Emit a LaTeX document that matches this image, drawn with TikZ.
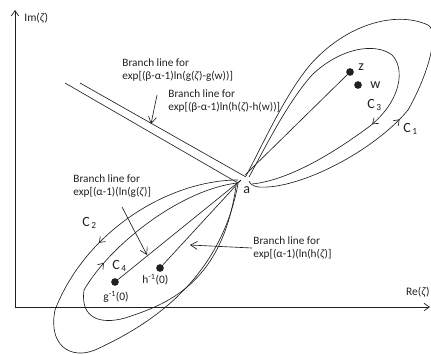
\documentclass[tikz,border=0pt]{standalone}
\usepackage{fontspec}
\setmainfont{Carlito}
\usepackage{xcolor}
\definecolor{inkBlack}{HTML}{231F20}
\usepackage{tikz}
\usetikzlibrary{
    arrows.meta,
    decorations.markings,
    calc
}
\newcommand{\zt}{\textit{ζ}}
\tikzset{
    % Base style for all labels
    small text/.style={
        font=\fontsize{9.6}{10.4}\selectfont,
        text=inkBlack,
        inner sep=1pt,
    },
    % Branch line captions - two lines, left aligned
    caption/.style={
        small text,
        align=left,
        anchor=west,
    },
    % Axis and point names
    mid label/.style={
        font=\fontsize{9.8}{11}\selectfont,
        text=inkBlack,
        inner sep=1pt,
        anchor=west,
    },
    % Contour names
    big label/.style={
        font=\fontsize{12}{13}\selectfont,
        text=inkBlack,
        inner sep=1pt,
        anchor=west,
    },
    % Coordinate axes
    axis/.style={
        -{Straight Barb[length=1.6mm, width=2.2mm]},
        line width=0.6pt,
        draw=inkBlack,
    },
    % Contours round the branch points
    contour/.style={
        line width=0.55pt,
        draw=inkBlack,
    },
    % Direction marks on a contour
    forward at/.style={
        postaction={decorate},
        decoration={markings,
            mark=at position #1 with {\arrow{Straight Barb[length=1.5mm, width=2.2mm]}}},
    },
    backward at/.style={
        postaction={decorate},
        decoration={markings,
            mark=at position #1 with {\arrowreversed{Straight Barb[length=1.5mm, width=2.2mm]}}},
    },
    % Branch lines
    cut/.style={
        line width=0.55pt,
        draw=inkBlack,
    },
    % Pointer from a caption to its branch line
    pointer/.style={
        -{Straight Barb[length=2mm, width=2.4mm]},
        line width=0.55pt,
        draw=inkBlack,
    },
    % Branch points
    dot/.style={
        circle,
        fill=inkBlack,
        inner sep=0pt,
        minimum size=2.3mm,
    },
}

\begin{document}
\begin{tikzpicture}[x=0.03cm, y=-0.03cm]
    \useasboundingbox (0,0) rectangle (431,354);

    % axes
    \coordinate (O) at (15,307);
    \coordinate (imTip) at (15,10);
    \coordinate (reTip) at (430,307);
    \draw [axis] (O) -- (imTip);
    \draw [axis] (O) -- (reTip);
    \node (imLabel) [mid label] at (23,18) {Im(\zt)};
    \node (reLabel) [mid label, anchor=east] at (431,292) {Re(\zt)};

    % points
    \coordinate (a) at (241,180);
    \node (z) [dot] at (350,72) {};
    \node (w) [dot] at (358,85) {};
    \node (ginv) [dot] at (115,282) {};
    \node (hinv) [dot] at (160,268) {};
    \node (aLabel) [big label] at (242,190) {a};
    \node (zLabel) [big label] at (357,67) {z};
    \node (wLabel) [big label] at (369,85) {w};
    \node (gLabel) [mid label] at (102,297) {g\textsuperscript{-1}(0)};
    \node (hLabel) [mid label] at (141,280) {h\textsuperscript{-1}(0)};

    % branch lines
    \coordinate (cutA) at (65,83);
    \coordinate (cutB) at (80,83);
    \draw [cut] (cutA) -- ([shift={(-3,3)}]a);
    \draw [cut] (cutB) -- ([shift={(5,-3)}]a);
    \draw [cut] ([shift={(4,-5)}]a) -- (z);
    \draw [cut] (a) -- (ginv);
    \draw [cut] (a) -- (hinv);

    % contours C1 and C3
    \draw [contour, backward at=0.68] ([shift={(5,-4)}]a)
        .. controls (265,140) and (285,95) .. (310,65)
        .. controls (345,25) and (395,10) .. (428,25)
        .. controls (440,32) and (428,75) .. (408,110)
        .. controls (375,150) and (300,190) .. (258,187)
        .. controls (253,186) and (250,184) .. (249,181);
    \draw [contour, forward at=0.68] ([shift={(8,-3)}]a)
        .. controls (268,142) and (288,102) .. (312,75)
        .. controls (340,48) and (375,42) .. (392,55)
        .. controls (405,68) and (402,100) .. (370,126)
        .. controls (335,152) and (290,180) .. ([shift={(11,4)}]a);
    \node (c1Label) [big label] at (402,129) {C\textsubscript{\,1}};
    \node (c3Label) [big label] at (366,105) {C\textsubscript{\,3}};

    % contours C2 and C4
    \draw [contour, forward at=0.29] ([shift={(-3,0)}]a)
        .. controls (170,180) and (86,230) .. (55,310)
        .. controls (48,345) and (70,360) .. (95,350)
        .. controls (150,325) and (220,280) .. ([shift={(-3,4)}]a);
    \draw [contour, backward at=0.36] ([shift={(-4,3)}]a)
        .. controls (180,190) and (110,245) .. (84,290)
        .. controls (80,318) and (100,325) .. (125,318)
        .. controls (165,305) and (222,285) .. ([shift={(-5,6)}]a);
    \node (c2Label) [big label] at (81,223) {C\textsubscript{\,2}};
    \node (c4Label) [big label] at (111,266) {C\textsubscript{\,4}};

    % captions
    \node (txtGW) [caption] at (121,70) {Branch line for\\exp[(β-α-1)ln(g(\zt)-g(w))]};
    \node (txtHW) [caption] at (167,101) {Branch line for\\exp[(β-α-1)ln(h(\zt)-h(w))]};
    \node (txtG) [caption] at (72,186) {Branch line for\\exp[(α-1)(ln(g(\zt)]};
    \node (txtH) [caption] at (252,248) {Branch line for\\exp[(α-1)(ln(h(\zt)]};

    \coordinate (tailHW) at (157,95);
    \coordinate (tipHW) at (151,124);
    \coordinate (tailG) at (122,207);
    \coordinate (tipG) at (147,255);
    \coordinate (tipH) at (190,245);
    \draw [pointer] (tailHW) -- (tipHW);
    \draw [pointer] (tailG) -- (tipG);
    \draw [pointer] (txtH.west) -- (tipH);
\end{tikzpicture}
\end{document}
